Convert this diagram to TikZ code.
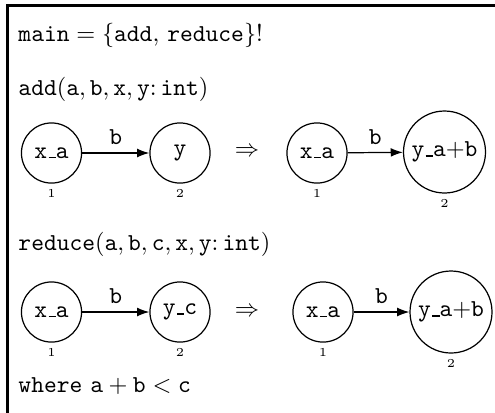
\documentclass[tikz,border=0pt]{standalone}
\usetikzlibrary{arrows.meta,positioning}
\newcommand{\usc}{\leavevmode\kern.06em\vbox{\hrule height 0.6pt width.3em}}
\begin{document}
\begin{tikzpicture}[x=0.411pt,y=-0.411pt,
  vtx/.style={draw,circle,line width=0.5pt,inner sep=0pt,minimum size=24.7pt,font=\ttfamily},
  bigvtx/.style={vtx,minimum size=33.7pt},
  num/.style={font=\tiny,inner sep=0pt},
  arr/.style={line width=0.5pt,-{Latex[length=5pt,width=3.6pt]}},
  txt/.style={anchor=base west,inner sep=0pt},
  elbl/.style={font=\ttfamily,above,inner sep=3pt}]
\useasboundingbox (0,0) rectangle (495,412);
\draw[line width=1.05pt] (7.5,420) -- (7.5,5.3) -- (500,5.3);
% text lines
\node[txt] (t1) at (18,41) {$\mathtt{main} = \{$\texttt{add}, \texttt{reduce}$\}$!};
\node[txt] (t2) at (18,95) {$\mathtt{add}(\mathtt{a},\mathtt{b},\mathtt{x},\mathtt{y}\colon \mathtt{int})$};
\node[txt] (t3) at (18,250) {$\mathtt{reduce}(\mathtt{a},\mathtt{b},\mathtt{c},\mathtt{x},\mathtt{y}\colon \mathtt{int})$};
\node[txt] (t4) at (18,392) {\texttt{where} $\mathtt{a}+\mathtt{b}<\mathtt{c}$};
% row 1
\node[vtx] (a1) at (51.5,153) {x\usc a};
\node[vtx] (b1) at (180,153) {y};
\node[num,below=2.2pt of a1] (a1n) {1};
\node[num,below=2.2pt of b1] (b1n) {2};
\draw[arr] (a1) -- (b1) node[elbl,midway] (e1) {b};
\node (r1) at (247,152) {$\Rightarrow$};
\node[vtx] (c1) at (317,153) {x\usc a};
\node[bigvtx] (d1) at (444.5,152) {y\usc a{$+$}b};
\node[num,below=2.2pt of c1] (c1n) {1};
\node[num,below=2.2pt of d1] (d1n) {2};
\draw[arr] (c1) -- (d1) node[elbl,midway] (f1) {b};
% row 2
\node[vtx] (a2) at (51.5,312) {x\usc a};
\node[vtx] (b2) at (180,312) {y\usc c};
\node[num,below=2.2pt of a2] (a2n) {1};
\node[num,below=2.2pt of b2] (b2n) {2};
\draw[arr] (a2) -- (b2) node[elbl,midway] (e2) {b};
\node (r2) at (247,312) {$\Rightarrow$};
\node[vtx] (c2) at (323,312) {x\usc a};
\node[bigvtx] (d2) at (451,312) {y\usc a{$+$}b};
\node[num,below=2.2pt of c2] (c2n) {1};
\node[num,below=2.2pt of d2] (d2n) {2};
\draw[arr] (c2) -- (d2) node[elbl,midway] (f2) {b};
\end{tikzpicture}
\end{document}
